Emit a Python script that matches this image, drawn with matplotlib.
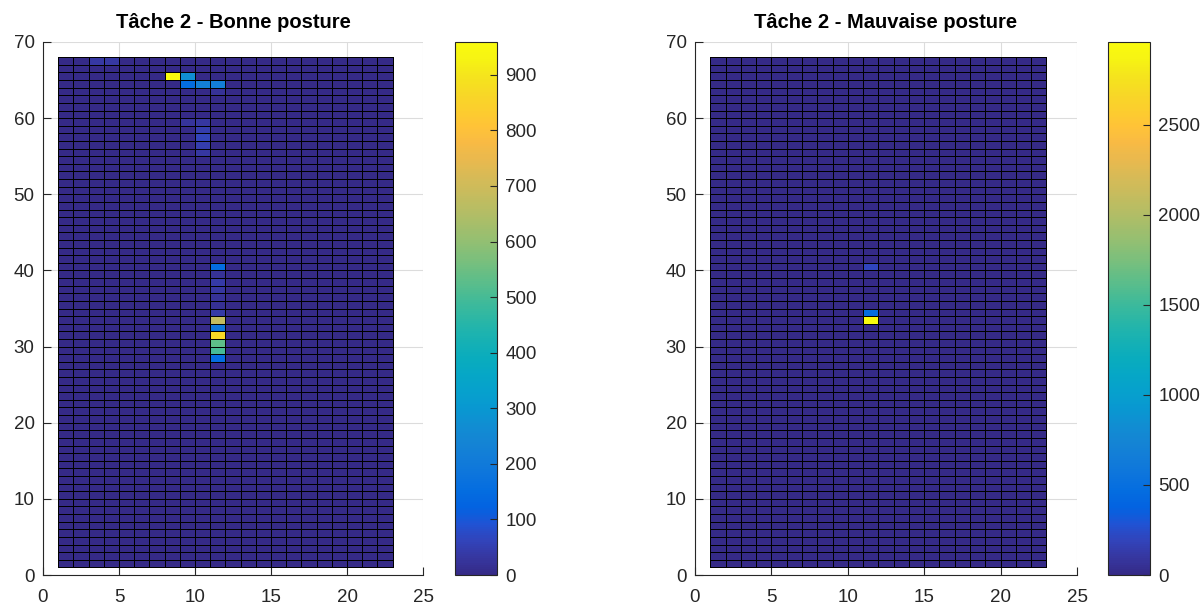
import numpy as np
import matplotlib
matplotlib.use("Agg")
import matplotlib.pyplot as plt
from matplotlib.colors import LinearSegmentedColormap

plt.rcParams['font.family'] = ['Liberation Sans', 'DejaVu Sans']

# ---------------- data ----------------
n_cols = 22   # cells along x (edges 1..23)
n_rows = 67   # cells along y (edges 1..68)

titles = ["Tâche 2 - Bonne posture", "Tâche 2 - Mauvaise posture"]

# left map: non-zero cells (x of lower-left corner, y of lower-left corner, value)
good_x = [8, 9, 9, 10, 11, 3, 4, 9, 10, 10, 10, 10, 10, 11,
          11, 11, 11, 11, 11, 11, 11, 11, 11, 11, 11, 11, 11]
good_y = [65, 65, 64, 64, 64, 67, 67, 59, 59, 58, 57, 56, 55, 63,
          40, 39, 38, 37, 36, 35, 34, 33, 32, 31, 30, 29, 28]
good_v = [959, 270, 150, 220, 220, 35, 35, 25, 30, 45, 60, 45, 30, 20,
          150, 20, 40, 30, 20, 15, 40, 680, 190, 870, 530, 500, 150]

# right map: non-zero cells
bad_x = [11, 11, 11]
bad_y = [33, 34, 40]
bad_v = [2960, 470, 200]

good_cticks = [0, 100, 200, 300, 400, 500, 600, 700, 800, 900]
bad_cticks = [0, 500, 1000, 1500, 2000, 2500]
xticks = [0, 5, 10, 15, 20, 25]
yticks = [0, 10, 20, 30, 40, 50, 60, 70]

# parula colormap (MATLAB)
parula_rgb = [
    (0.2081, 0.1663, 0.5292), (0.2123, 0.2138, 0.6270), (0.1959, 0.2645, 0.7279),
    (0.1253, 0.3242, 0.8303), (0.0117, 0.3875, 0.8820), (0.0165, 0.4266, 0.8786),
    (0.0498, 0.4586, 0.8641), (0.0723, 0.4887, 0.8467), (0.0793, 0.5200, 0.8312),
    (0.0641, 0.5570, 0.8240), (0.0343, 0.5966, 0.8199), (0.0239, 0.6287, 0.8038),
    (0.0228, 0.6535, 0.7768), (0.0384, 0.6743, 0.7436), (0.0843, 0.6928, 0.7062),
    (0.1453, 0.7098, 0.6646), (0.2178, 0.7250, 0.6193), (0.3022, 0.7376, 0.5712),
    (0.3953, 0.7459, 0.5244), (0.4871, 0.7491, 0.4840), (0.5709, 0.7485, 0.4494),
    (0.6473, 0.7456, 0.4188), (0.7184, 0.7411, 0.3905), (0.7858, 0.7356, 0.3633),
    (0.8507, 0.7299, 0.3360), (0.9139, 0.7258, 0.3063), (0.9739, 0.7314, 0.2666),
    (0.9990, 0.7653, 0.2164), (0.9880, 0.8066, 0.1794), (0.9697, 0.8481, 0.1475),
    (0.9589, 0.8949, 0.1132), (0.9661, 0.9514, 0.0755), (0.9763, 0.9831, 0.0538),
]
parula = LinearSegmentedColormap.from_list("parula", parula_rgb, N=256)


def build(xs, ys, vs):
    C = np.zeros((n_rows, n_cols))
    for x, y, v in zip(xs, ys, vs):
        C[y - 1, x - 1] = v
    return C


maps = [build(good_x, good_y, good_v), build(bad_x, bad_y, bad_v)]
cticks = [good_cticks, bad_cticks]

W, H = 1201, 607
fig = plt.figure(figsize=(W / 100, H / 100), dpi=100)

ax_px = [(43, 423), (695, 1077)]
cb_px = [(455, 497), (1108, 1150)]
top_px, bot_px = 42, 575

xe = np.arange(1, n_cols + 2)
ye = np.arange(1, n_rows + 2)
dark = '#262626'
gridc = '#dcdcdc'

for i in range(2):
    l, r = ax_px[i]
    ax = fig.add_axes([l / W, (H - bot_px) / H, (r - l) / W, (bot_px - top_px) / H])
    C = maps[i]
    m = ax.pcolormesh(xe, ye, C, cmap=parula, vmin=0, vmax=C.max(),
                      edgecolors='black', linewidth=0.7)
    ax.set_xlim(0, 25)
    ax.set_ylim(0, 70)
    ax.set_xticks(xticks)
    ax.set_yticks(yticks)
    ax.set_axisbelow(True)
    ax.grid(True, color=gridc, linewidth=0.8)
    for s in ['top', 'right']:
        ax.spines[s].set_visible(False)
    for s in ['left', 'bottom']:
        ax.spines[s].set_color(dark)
        ax.spines[s].set_linewidth(0.8)
    ax.tick_params(direction='in', length=6, width=0.8, colors=dark,
                   labelsize=13.5, pad=6)
    ax.tick_params(axis='x', pad=10)
    ax.set_title(titles[i], fontsize=14.5, fontweight='bold', pad=10)

    cl, cr = cb_px[i]
    cax = fig.add_axes([cl / W, (H - bot_px) / H, (cr - cl) / W, (bot_px - top_px) / H])
    cb = fig.colorbar(m, cax=cax)
    cb.set_ticks(cticks[i])
    cb.outline.set_edgecolor(dark)
    cb.outline.set_linewidth(0.8)
    cax.tick_params(direction='in', length=5, width=0.8, colors=dark,
                    labelsize=13.5, pad=6)

fig.savefig("out.png", dpi=100)
